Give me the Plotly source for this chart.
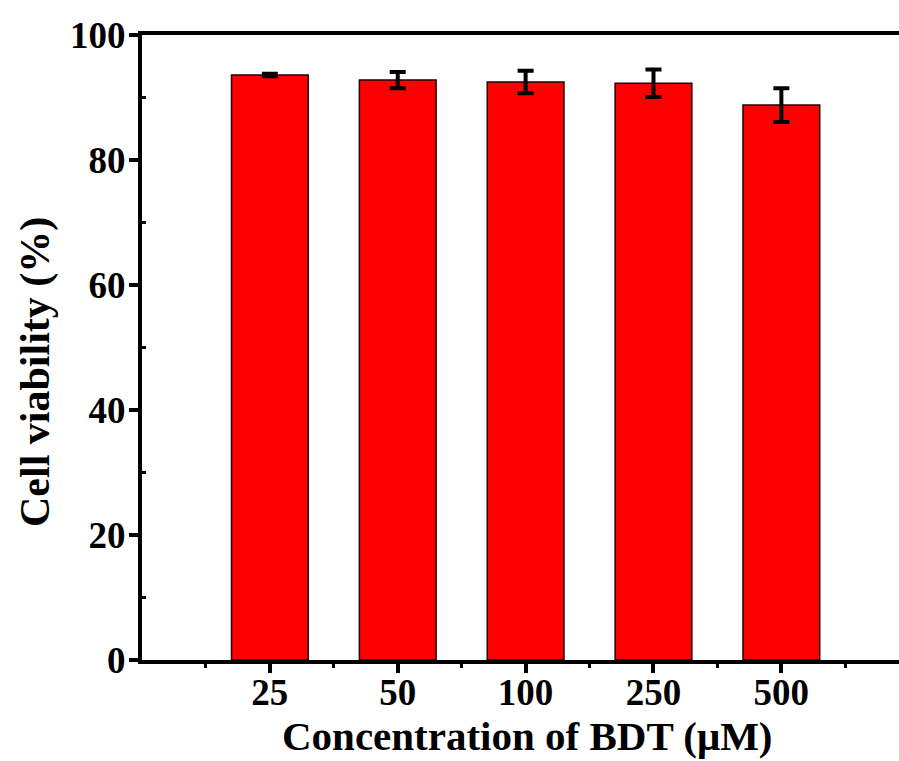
import plotly.graph_objects as go

categories = ["25", "50", "100", "250", "500"]
viability = [93.6, 92.8, 92.5, 92.3, 88.8]
errors = [0.2, 1.3, 1.8, 2.2, 2.7]
y_ticks = [0, 20, 40, 60, 80, 100]
x_title = "Concentration of BDT (μM)"
y_title = "Cell viability (%)"

positions = list(range(1, len(categories) + 1))

fig = go.Figure()
fig.add_trace(go.Bar(
    x=positions, y=viability, width=0.6,
    marker=dict(color="#ff0000", line=dict(color="#200000", width=1.5)),
    error_y=dict(type="data", array=errors, visible=True, color="black",
                 thickness=4, width=8),
))

font_family = "Liberation Serif, Times New Roman, serif"
L, T, B, W, H = 142, 35, 101, 899, 761
pw, ph = W - L, H - T - B
fig.update_layout(
    width=W, height=H,
    margin=dict(l=L, r=0, t=T, b=B, autoexpand=False),
    plot_bgcolor="white", paper_bgcolor="white",
    showlegend=False,
    font=dict(family=font_family, color="black"),
    xaxis=dict(
        range=[0, 5.92], tickvals=positions, ticktext=[f"<b>{c}</b>" for c in categories],
        showline=True, linecolor="black", linewidth=4, mirror=True,
        ticks="outside", ticklen=9, tickwidth=4, tickcolor="black",
        minor=dict(tickvals=[0.5, 1.5, 2.5, 3.5, 4.5, 5.5], ticks="outside", ticklen=4, tickwidth=3, tickcolor="black"),
        showgrid=False, zeroline=False, automargin=False,
        tickfont=dict(size=37, family=font_family), ticklabelstandoff=-12,
    ),
    yaxis=dict(
        range=[0, 100], tickvals=y_ticks, ticktext=[f"<b>{v}</b>" for v in y_ticks],
        showline=True, linecolor="black", linewidth=4,
        ticks="outside", ticklen=9, tickwidth=4, tickcolor="black",
        minor=dict(tickvals=[10, 30, 50, 70, 90], ticks="inside", ticklen=4, tickwidth=3, tickcolor="black"),
        showgrid=False, zeroline=False, automargin=False,
        tickfont=dict(size=37, family=font_family), ticklabelstandoff=-4,
    ),
    annotations=[
        dict(text=f"<b>{x_title}</b>", xref="paper", yref="paper",
             x=(527 - L) / pw, y=(660 - 736) / ph, xanchor="center", yanchor="middle",
             showarrow=False, font=dict(size=41, family=font_family)),
        dict(text=f"<b>{y_title}</b>", xref="paper", yref="paper",
             x=(35 - L) / pw, y=(660 - 372) / ph, xanchor="center", yanchor="middle",
             textangle=-90, showarrow=False, font=dict(size=42, family=font_family)),
    ],
)

fig.write_html("out.html", config={"displayModeBar": False},
               post_script="document.body.style.margin='0';document.body.style.overflow='hidden';")
